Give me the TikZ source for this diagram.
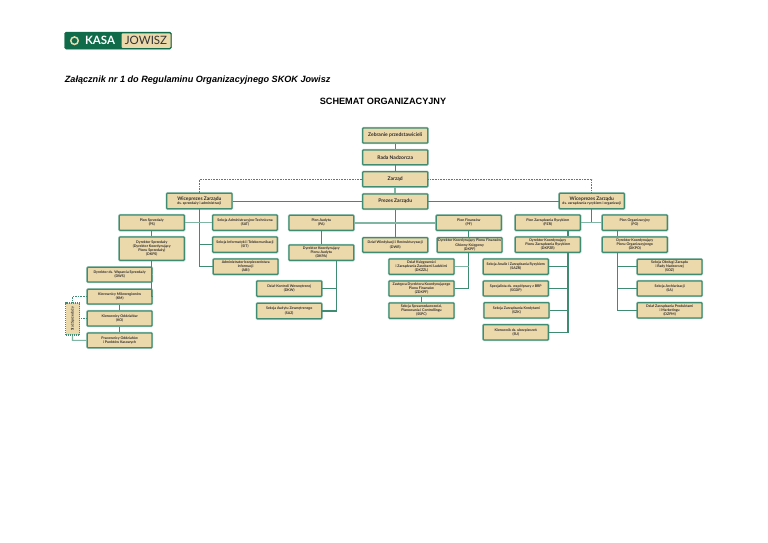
\documentclass[tikz,border=0pt]{standalone}
\usepackage{fontspec}
\setmainfont{Liberation Sans}
\newfontfamily\boxfont{Lato}
\definecolor{gline}{HTML}{3F8C72}
\definecolor{ghalo}{HTML}{B4D6C9}
\definecolor{bfill}{HTML}{EBD8AB}
\definecolor{logog}{HTML}{0F6B4A}
\definecolor{txt}{HTML}{2A2A2A}
\tikzset{
  box/.style={draw=gline,fill=bfill,line width=1.2pt,rounded corners=0.8pt,inner sep=0pt,align=center,
     text=txt,font=\boxfont\bfseries\fontsize{3.55}{4.1}\selectfont,
     preaction={draw=ghalo,line width=2.4pt,rounded corners=0.8pt}},
  big/.style={font=\boxfont\bfseries\fontsize{5}{6}\selectfont},
  conn/.style={draw=gline,line width=1.2pt},
  pale/.style={draw=ghalo!55!gline,line width=1.5pt},
  dot/.style={draw=gline,line width=1.2pt,dash pattern=on 0.8pt off 0.8pt},
}
\newcommand{\bx}[7][]{\node[box,#1,minimum width=#4pt-#3pt,minimum height=#6pt-#5pt,anchor=center] (#2) at ({(#3+#4)/2},{(#5+#6)/2}) {#7};}
\begin{document}
\begin{tikzpicture}[x=1pt,y=-1pt]
\useasboundingbox (0,0) rectangle (768,543);
\fill[white] (0,0) rectangle (768,543);
% logo
\node[draw=logog,fill=logog,rounded corners=1.5pt,minimum width=107pt,minimum height=17pt,inner sep=0pt] (logoa) at (118,40.7) {};
\node[fill=bfill,rounded corners=1pt,minimum width=49pt,minimum height=14.5pt,inner sep=0pt,font=\boxfont\fontsize{11.5}{12}\selectfont,text=black!80] (logob) at (146,40.7) {JOWISZ};
\node[draw=bfill,circle,line width=1.5pt,inner sep=0pt,minimum size=7.5pt] (logoc) at (74.5,40.7) {};
\node[text=white,font=\boxfont\bfseries\fontsize{11.5}{12}\selectfont,inner sep=0pt] (logod) at (100,40.7) {KASA};
% titles
\node[anchor=west,inner sep=0pt,font=\bfseries\itshape\fontsize{9.1}{11}\selectfont] (t1) at (64.7,80.5) {Załącznik nr 1 do Regulaminu Organizacyjnego SKOK Jowisz};
\node[inner sep=0pt,font=\bfseries\fontsize{9.15}{11}\selectfont] (t2) at (383,101.5) {SCHEMAT ORGANIZACYJNY};
% boxes
\bx[big]{zeb}{362.7}{427.7}{128}{143}{Zebranie przedstawicieli}
\bx[big]{rada}{362.7}{427.7}{150}{164.7}{Rada Nadzorcza}
\bx[big]{zarzad}{362.7}{427.7}{171.7}{186.7}{Zarząd}
\bx[big]{prezes}{362.7}{427.7}{194}{209}{Prezes Zarządu}
\bx{wz1}{166.7}{232}{193.3}{208.7}{{\fontsize{4.9}{5.8}\selectfont Wiceprezes Zarządu}\\ds. sprzedaży i administracji}
\bx{wz2}{559.3}{624.3}{193.3}{208.7}{{\fontsize{4.9}{5.8}\selectfont Wiceprezes Zarządu}\\ds. zarządzania ryzykiem i organizacji}
\bx{ps}{119.3}{184.3}{215}{230.3}{Pion Sprzedaży\\(PS)}
\bx{sat}{212.7}{277.3}{215}{230.3}{Sekcja Administracyjno-Techniczna\\(SAT)}
\bx{pa}{289}{353.7}{215.3}{230.3}{Pion Audytu\\(PA)}
\bx{pf}{436.3}{501.3}{215.3}{230.3}{Pion Finansów\\(PF)}
\bx{pzr}{515.3}{580.3}{215}{230.3}{Pion Zarządzania Ryzykiem\\(PZR)}
\bx{po}{602.3}{667.3}{215}{230.3}{Pion Organizacyjny\\(PO)}
\bx{dkps}{119.3}{184.3}{237}{260.3}{Dyrektor Sprzedaży\\(Dyrektor Koordynujący\\Pionu Sprzedaży)\\(DKPS)}
\bx{sit}{212.7}{277.3}{237}{252.3}{Sekcja Informatyki i Telekomunikacji\\(SIT)}
\bx{dwr}{362.7}{427.7}{237.7}{252.3}{Dział Windykacji i Restrukturyzacji\\(DWR)}
\bx{dkpf}{437.3}{502}{237.7}{252.3}{Dyrektor Koordynujący Pionu Finansów\\Główny Księgowy\\(DKPF)}
\bx{dkpzr}{515.3}{580.3}{237}{252.3}{Dyrektor Koordynujący\\Pionu Zarządzania Ryzykiem\\(DKPZR)}
\bx{dkpo}{602.3}{667.3}{237}{252.3}{Dyrektor Koordynujący\\Pionu Organizacyjnego\\(DKPO)}
\bx{dkpa}{289}{353.7}{245}{260.3}{Dyrektor Koordynujący\\Pionu Audytu\\(DKPA)}
\bx{abi}{213.3}{278}{259}{274.3}{Administrator bezpieczeństwa\\informacji\\(ABI)}
\bx{dkzzl}{389}{454}{259}{274.3}{Dział Księgowości\\i Zarządzania Zasobami Ludzkimi\\(DKZZL)}
\bx{sazr}{483.3}{548.3}{259}{274.3}{Sekcja Analiz i Zarządzania Ryzykiem\\(SAZR)}
\bx{soz}{637.3}{702}{259.3}{274.3}{Sekcja Obsługi Zarządu\\i Rady Nadzorczej\\(SOZ)}
\bx{dws}{87.3}{152}{267.3}{282}{Dyrektor ds. Wsparcia Sprzedaży\\(DWS)}
\bx{dkw}{256.7}{321.7}{281}{296.3}{Dział Kontroli Wewnętrznej\\(DKW)}
\bx{zdkpf}{389}{454}{281}{296}{Zastępca Dyrektora Koordynującego\\Pionu Finansów\\(ZDKPF)}
\bx{sgdp}{483.3}{548.3}{281}{296}{Specjalista ds. współpracy z BRP\\(SGDP)}
\bx{sa}{637.3}{702}{281}{296}{Sekcja Archiwizacji\\(SA)}
\bx{km}{87.3}{152}{289.3}{304}{Kierownicy Mikroregionów\\(KM)}
\bx{saz}{256.7}{321.7}{303.3}{318.7}{Sekcja Audytu Zewnętrznego\\(SAZ)}
\bx{sspc}{389}{454}{303}{318.3}{Sekcja Sprawozdawczości,\\Planowania i Controllingu\\(SSPC)}
\bx{szk}{484}{549}{302.7}{318}{Sekcja Zarządzania Kredytami\\(SZK)}
\bx{dzpm}{637.3}{702}{302.7}{318}{Dział Zarządzania Produktami\\i Marketingu\\(DZPM)}
\bx{ko}{87.3}{152}{311}{326}{Kierownicy Oddziałów\\(KO)}
\bx{su}{483.3}{548.3}{324.7}{340}{Kierownik ds. ubezpieczeń\\(SU)}
\bx{pod}{87.3}{152}{333}{347.7}{Pracownicy Oddziałów\\i Punktów Kasowych}
\node[draw=gline,fill=bfill,line width=1.7pt,dash pattern=on 1pt off 1pt,inner sep=0pt,minimum width=14pt,minimum height=32.6pt] (staz) at (72.5,319) {};
\node[rotate=90,text=txt,inner sep=0pt,font=\boxfont\bfseries\fontsize{3.6}{4.4}\selectfont] (stazt) at (72.5,319) {Staż Sprzedaży};
% connectors
\draw[conn] (zeb) -- (rada);
\draw[conn] (rada) -- (zarzad);
\draw[pale] (zarzad) -- (prezes);
\draw[dot] (zarzad.west) -- (wz1.north |- zarzad.west) -- (wz1.north);
\draw[dot] (zarzad.east) -- (wz2.north |- zarzad.east) -- (wz2.north);
\draw[conn] (prezes.west) -- (wz1.east |- prezes.west);
\draw[conn] (prezes.east) -- (wz2.west |- prezes.east);
\draw[conn] (prezes) -- (dwr);
\draw[pale] (pa.east) -- (pf.west |- pa.east);
% left branch
\draw[conn] (wz1.south) -- (wz1.south |- abi.west) -- (abi.west);
\draw[conn] (wz1.south |- sit.west) -- (sit.west);
\draw[pale] (ps.east) -- (sat.west);
\draw[conn] (ps) -- (dkps);
\draw[conn] (dkps.south) -- (dkps.south |- km.east) -- (km.east);
\draw[pale] (dkps.south |- dws.east) -- (dws.east);
\draw[conn] (km) -- (ko);
\draw[conn] (ko) -- (pod);
\draw[dot] (km.west) -- (staz.north |- km.west) -- (staz.north);
\coordinate (podc) at (72.5,340.3);
\draw[pale,line width=1.1pt] (pod.west) -- (podc) -- (podc |- staz.south);
\draw[dot] (ko.west) -- (staz.east |- ko.west);
% audit
\coordinate (a1) at (336.7,260.3);
\draw[conn] (pa) -- (pa |- dkpa.north);
\draw[conn] (a1) -- (a1 |- saz.east) -- (saz.east);
\draw[conn] (a1 |- dkw.east) -- (dkw.east);
% finance
\coordinate (f1) at (468.5,252.3);
\draw[conn] (pf) -- (pf |- dkpf.north);
\draw[conn] (f1) -- (f1 |- zdkpf.east) -- (zdkpf.east);
\draw[pale] (f1 |- dkzzl.east) -- (dkzzl.east);
\draw[conn] (zdkpf) -- (sspc);
% risk
\draw[conn] (wz2.south) -- (wz2.south |- pzr.east);
\draw[pale] (pzr.east) -- (po.west);
\coordinate (r1) at (568,230.3);
\coordinate (r2) at (568,252.3);
\draw[conn] (r1) -- (r2 |- dkpzr.north);
\draw[conn] (r2) -- (r2 |- su.east) -- (su.east);
\draw[conn] (r2 |- sazr.east) -- (sazr.east);
\draw[conn] (r2 |- sgdp.east) -- (sgdp.east);
\draw[conn] (r2 |- szk.east) -- (szk.east);
\coordinate (o1) at (617.7,230.3);
\coordinate (o2) at (617.7,252.3);
\draw[conn] (o1) -- (o1 |- dkpo.north);
\draw[conn] (o2) -- (o2 |- dzpm.west) -- (dzpm.west);
\draw[conn] (o2 |- soz.west) -- (soz.west);
\draw[conn] (o2 |- sa.west) -- (sa.west);
\end{tikzpicture}
\end{document}
